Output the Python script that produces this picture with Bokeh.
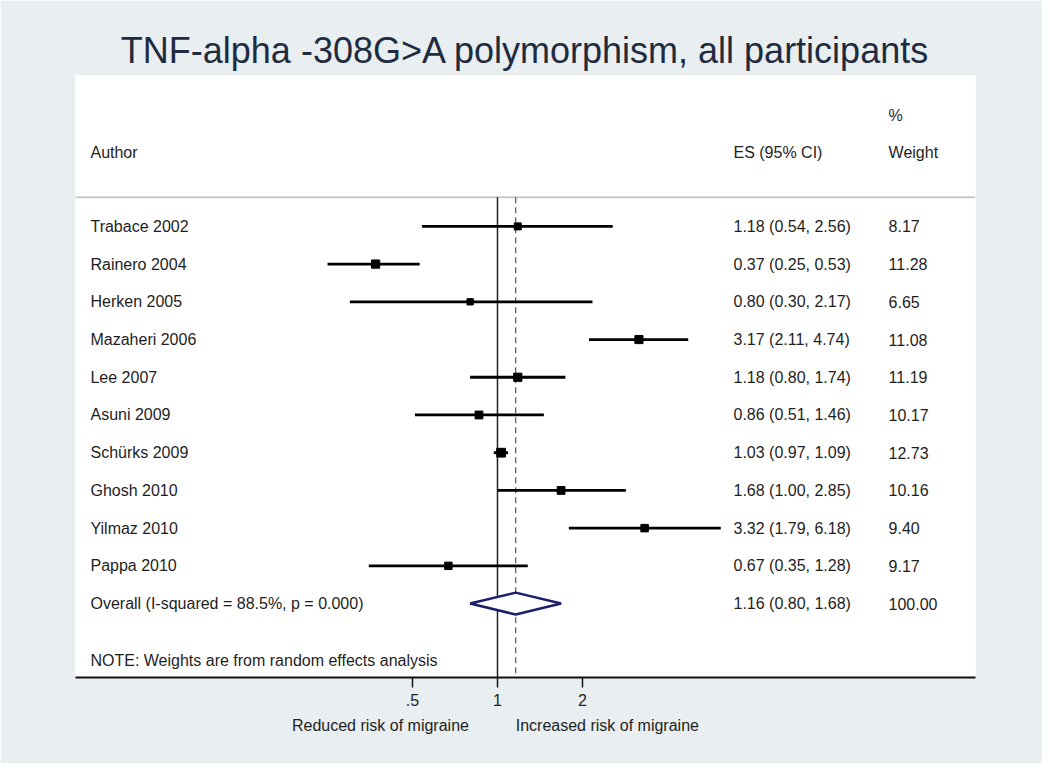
import math
from bokeh.plotting import figure
from bokeh.models import Range1d, FixedTicker, LogAxis, ColumnDataSource
from bokeh.core.properties import value
from bokeh.embed import file_html
from bokeh.resources import INLINE

authors = ["Trabace 2002", "Rainero 2004", "Herken 2005", "Mazaheri 2006", "Lee 2007",
           "Asuni 2009", "Schürks 2009", "Ghosh 2010", "Yilmaz 2010", "Pappa 2010"]
es = [1.18, 0.37, 0.80, 3.17, 1.18, 0.86, 1.03, 1.68, 3.32, 0.67]
lo = [0.54, 0.25, 0.30, 2.11, 0.80, 0.51, 0.97, 1.00, 1.79, 0.35]
hi = [2.56, 0.53, 2.17, 4.74, 1.74, 1.46, 1.09, 2.85, 6.18, 1.28]
weights = [8.17, 11.28, 6.65, 11.08, 11.19, 10.17, 12.73, 10.16, 9.40, 9.17]
overall_label = "Overall  (I-squared = 88.5%, p = 0.000)"
overall = [1.16, 0.80, 1.68]
overall_weight = "100.00"
note = "NOTE: Weights are from random effects analysis"
tick_values = [0.5, 1, 2]
tick_labels = [".5", "1", "2"]
side_labels = ["Reduced risk of migraine", "Increased risk of migraine"]

FONT = "Liberation Sans"
TXT = "#1e1e1e"
FS = "16px"

n = len(authors)
rows = list(range(1, n + 1))
y_over = n + 1
y_note = n + 2.5
y_sep = 0.23
y_bot = 12.96

x_left = math.exp(-3.442)
x_right = math.exp(3.899)
x_author = math.exp(-3.32)
x_es = math.exp(1.925)
x_w = math.exp(3.19)

p = figure(width=1042, height=763, x_axis_type="log",
           x_range=Range1d(x_left, x_right), y_range=Range1d(y_bot, -3.0),
           output_backend="svg", toolbar_location=None, y_axis_location=None,
           min_border_left=75, min_border_right=67, min_border_top=75, min_border_bottom=86)

p.border_fill_color = "#E9EFF1"
p.background_fill_color = "white"
p.outline_line_color = None
p.xgrid.visible = False
p.ygrid.visible = False

p.title.text = "TNF-alpha -308G>A polymorphism, all participants"
p.title.align = "center"
p.title.text_font = FONT
p.title.text_font_size = "36px"
p.title.text_font_style = "normal"
p.title.text_color = "#1F2B40"

# x axis
ax = p.xaxis[0]
ax.ticker = FixedTicker(ticks=tick_values, minor_ticks=[])
ax.major_label_overrides = {v: l for v, l in zip(tick_values, tick_labels)}
ax.major_label_text_font = FONT
ax.major_label_text_font_size = FS
ax.major_label_text_color = TXT
ax.axis_line_color = "#111111"
ax.axis_line_width = 2
ax.major_tick_line_color = "#111111"
ax.major_tick_line_width = 1.5
ax.major_tick_out = 10
ax.major_tick_in = 0
ax.minor_tick_line_color = None
ax.major_label_standoff = 6

# side labels as second axis
ax2 = LogAxis(ticker=FixedTicker(ticks=[0.385, 2.45], minor_ticks=[]),
              major_label_overrides={0.385: side_labels[0], 2.45: side_labels[1]})
ax2.axis_line_color = None
ax2.major_tick_line_color = None
ax2.minor_tick_line_color = None
ax2.major_label_text_font = FONT
ax2.major_label_text_font_size = FS
ax2.major_label_text_color = TXT
ax2.major_label_standoff = 2
p.add_layout(ax2, "below")

# header separator
p.segment(x0=[x_left], y0=[y_sep], x1=[x_right], y1=[y_sep], line_color="#C8C8C8", line_width=2)

# reference lines
p.segment(x0=[1], y0=[y_sep], x1=[1], y1=[y_bot], line_color="#222222", line_width=1.5)
p.segment(x0=[overall[0]], y0=[y_sep], x1=[overall[0]], y1=[y_bot], line_color="#555555",
          line_width=1.2, line_dash="6 4")

src = ColumnDataSource(dict(y=rows, es=es, lo=lo, hi=hi,
                            size=[2.45 * math.sqrt(w) for w in weights],
                            author=authors,
                            esl=["%.2f (%.2f, %.2f)" % (a, b, c) for a, b, c in zip(es, lo, hi)],
                            wl=["%.2f" % w for w in weights]))

p.segment(x0="lo", y0="y", x1="hi", y1="y", source=src, line_color="black", line_width=2.8)
p.scatter(x="es", y="y", size="size", marker="square", source=src,
          fill_color="black", line_color="black")

# diamond
p.patch(x=[overall[1], overall[0], overall[2], overall[0]],
        y=[y_over, y_over - 0.29, y_over, y_over + 0.29],
        fill_color="white", line_color="#1B1F6B", line_width=2.5)

tkw = dict(text_font=value(FONT), text_font_size=FS, text_color=TXT, text_baseline="middle")
p.text(x=x_author, y="y", text="author", source=src, **tkw)
p.text(x=x_es, y="y", text="esl", source=src, **tkw)
p.text(x=x_w, y="y", text="wl", source=src, **tkw)

p.text(x=[x_author, x_author], y=[y_over, y_note], text=[overall_label, note], **tkw)
p.text(x=[x_es], y=[y_over], text=["%.2f (%.2f, %.2f)" % tuple(overall)], **tkw)
p.text(x=[x_w], y=[y_over], text=[overall_weight], **tkw)

# headers
p.text(x=[x_author, x_es, x_w, x_w], y=[-0.96, -0.96, -0.96, -1.94],
       text=["Author", "ES (95% CI)", "Weight", "%"], **tkw)

open("out.html", "w").write(file_html(p, INLINE))
